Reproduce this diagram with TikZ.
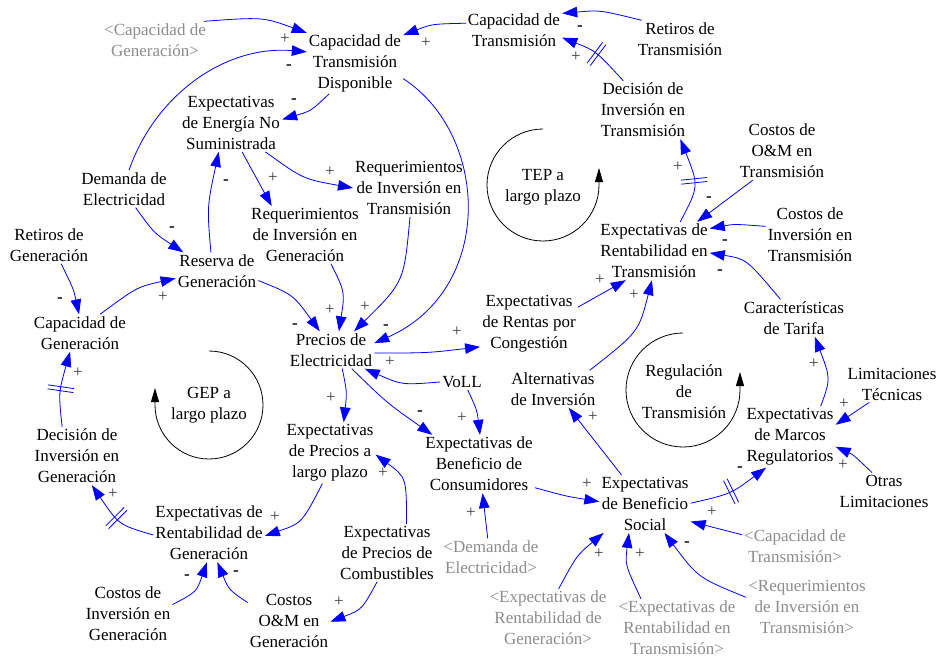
\documentclass[tikz,border=0pt]{standalone}
\usepackage{fontspec}
\setmainfont{Liberation Serif}
\usetikzlibrary{arrows.meta,decorations.markings}
\definecolor{linkblue}{RGB}{0,0,255}
\definecolor{ghost}{RGB}{140,140,140}
\definecolor{polgray}{RGB}{60,60,60}
\begin{document}
\begin{tikzpicture}[x=1pt,y=-1pt,
  var/.style={align=center,font=\fontsize{17}{21}\selectfont,inner sep=2pt},
  ghostvar/.style={var,text=ghost},
  pol/.style={font=\fontsize{17}{21}\selectfont,text=polgray,inner sep=0pt},
  neg/.style={font=\fontsize{17}{21}\selectfont\bfseries,text=black,inner sep=0pt},
  link/.style={draw=linkblue,line width=0.8pt,-{Triangle[length=15pt,width=10.5pt]}},
  loopline/.style={draw=black,line width=0.8pt,-{Triangle[length=14pt,width=8pt]}},
  delaymark/.style={postaction={decorate},decoration={markings,mark=at position 0.5 with {\draw[linkblue,line width=0.8pt,-] (-2pt,-13pt) -- (-2pt,13pt) (2pt,-13pt) -- (2pt,13pt);}}}
]
\useasboundingbox (0,0) rectangle (937,657);

% variables
\node[ghostvar] (cg) at (155,40) {<Capacidad de\\Generación>};
\node[var] (ctd) at (355,63) {Capacidad de\\Transmisión\\Disponible};
\node[var] (ct) at (514,30) {Capacidad de\\Transmisión};
\node[var] (rt) at (680,39) {Retiros de\\Transmisión};
\node[var] (dit) at (643,110) {Decisión de\\Inversión en\\Transmisión};
\node[var] (eens) at (231,123) {Expectativas\\de Energía No\\Suministrada};
\node[var] (dem) at (124,189) {Demanda de\\Electricidad};
\node[var] (rit) at (409,188) {Requerimientos\\de Inversión en\\Transmisión};
\node[var] (rig) at (305,235) {Requerimientos\\de Inversión en\\Generación};
\node[var] (rg) at (49,245) {Retiros de\\Generación};
\node[var] (res) at (217,271) {Reserva de\\Generación};
\node[var] (cgen) at (80,333) {Capacidad de\\Generación};
\node[var] (pe) at (331,350) {Precios de\\Electricidad};
\node[var] (ert) at (654,251) {Expectativas de\\Rentabilidad en\\Transmisión};
\node[var] (cot) at (782,151) {Costos de\\O\&M en\\Transmisión};
\node[var] (cit) at (810,235) {Costos de\\Inversión en\\Transmisión};
\node[var] (erc) at (529,324) {Expectativas\\de Rentas por\\Congestión};
\node[var] (ctar) at (794,318) {Características\\de Tarifa};
\node[var] (alt) at (553,389) {Alternativas\\de Inversión};
\node[var] (voll) at (462,382) {VoLL};
\node[var] (lt) at (892,384) {Limitaciones\\Técnicas};
\node[var] (emr) at (790,437) {Expectativas\\de Marcos\\Regulatorios};
\node[var] (ol) at (884,491) {Otras\\Limitaciones};
\node[var] (ebc) at (479,464) {Expectativas de\\Beneficio de\\Consumidores};
\node[var] (ebs) at (645,504) {Expectativas\\de Beneficio\\Social};
\node[var] (eplp) at (330,453) {Expectativas\\de Precios a\\largo plazo};
\node[var] (dig) at (77,456) {Decisión de\\Inversión en\\Generación};
\node[var] (erg) at (209,533) {Expectativas de\\Rentabilidad de\\Generación};
\node[var] (epc) at (387,553) {Expectativas\\de Precios de\\Combustibles};
\node[var] (cig) at (128,614) {Costos de\\Inversión en\\Generación};
\node[var] (cog) at (289,621) {Costos\\O\&M en\\Generación};
\node[ghostvar] (gdem) at (491,557) {<Demanda de\\Electricidad>};
\node[ghostvar] (gerg) at (548,618) {<Expectativas de\\Rentabilidad de\\Generación>};
\node[ghostvar] (gert) at (677,628) {<Expectativas de\\Rentabilidad en\\Transmisión>};
\node[ghostvar] (gct) at (795,546) {<Capacidad de\\Transmisión>};
\node[ghostvar] (grit) at (807,607) {<Requerimientos\\de Inversión en\\Transmisión>};

% loop labels and loop symbols
\node[var] (gep) at (209,405) {GEP a\\largo plazo};
\node[var] (tep) at (543,187) {TEP a\\largo plazo};
\node[var] (reg) at (684,392) {Regulación\\de\\Transmisión};
\begin{scope}[shift={(209,405)},y=1pt]
  \draw[loopline] (90:54) arc[start angle=90,end angle=-180,radius=54] -- ++(0,17);
\end{scope}
\begin{scope}[shift={(543,185)},y=1pt]
  \draw[loopline] (90:56) arc[start angle=90,end angle=360,radius=56] -- ++(0,17);
\end{scope}
\begin{scope}[shift={(683,390)},y=1pt]
  \draw[loopline] (90:57) arc[start angle=90,end angle=360,radius=57] -- ++(0,18);
\end{scope}

% links
\draw[link] (cg.21) .. controls (263,17) .. (ctd.148);
\draw[link] (dem.75) .. controls (155,95) and (225,45) .. (ctd.167);
\draw[link] (ctd.230) .. controls (311,111) .. (eens.4);
\draw[link] (ctd.342) .. controls (490,135) and (495,290) .. (pe.9);
\draw[link] (eens.291) -- (rig.139);
\draw[link] (eens.320) .. controls (303,179) .. (rit.180);
\draw[link] (res.108) .. controls (207,207) .. (eens.247);
\draw[link] (dem.302) .. controls (154,233) .. (res.151);
\draw[link] (rg.303) .. controls (73.5,289) .. (cgen.93);
\draw[link] (cgen.43) .. controls (137,287) .. (res.190);
\draw[link] (res.347) .. controls (293,294.5) .. (pe.121);
\draw[link] (rig.312) .. controls (345,292) .. (pe.67);
\draw[link] (rit.272) .. controls (404,282) .. (pe.39);
\draw[link] (pe.356) .. controls (428,353) .. (erc.205);
\draw[link] (voll.180) .. controls (402,385) .. (pe.331);
\draw[link] (pe.301) .. controls (347,392) .. (eplp.66);
\draw[link] (pe.318) .. controls (387,403) .. (ebc.148);
\draw[link] (voll.306) .. controls (477,410) .. (ebc.88);
\draw[link] (eplp.256) .. controls (302,523) .. (erg.357);
\draw[link] (epc.56) .. controls (406.5,477.5) .. (eplp.358);
\draw[link] (epc.251) .. controls (362,609.5) .. (cog.359);
\draw[link] (cig.12) .. controls (196.5,592) .. (erg.266);
\draw[link] (cog.156) .. controls (229,590) .. (erg.286);
\draw[link,delaymark] (erg.182) .. controls (119,525) .. (dig.297);
\draw[link,delaymark] (dig.117) .. controls (58.5,392.7) .. (cgen.242);
\draw[link] (ct.172) .. controls (432,24) .. (ctd.30);
\draw[link] (rt.154) .. controls (600,10) .. (ct.19);
\draw[link,delaymark] (dit.124) .. controls (596,51) .. (ct.351);
\draw[link,delaymark] (ert.48) .. controls (699,186) .. (dit.322);
\draw[link] (cot.225) -- (ert.34);
\draw[link] (cit.169) .. controls (734.5,224) .. (ert.22);
\draw[link] (ctar.126) .. controls (746.5,259) .. (ert.358);
\draw[link] (erc.19) -- (ert.226);
\draw[link] (alt.27) .. controls (638.7,331.8) .. (ert.266);
\draw[link] (ebs.129) -- (alt.310);
\draw[link] (ebc.337) .. controls (566.3,496.3) .. (ebs.177);
\draw[link] (gdem.100) -- (ebc.277);
\draw[link,delaymark] (ebs.1) .. controls (730.7,494) .. (emr.232);
\draw[link] (gct.168) -- (ebs.339);
\draw[link] (grit.171) .. controls (698,577.7) .. (ebs.304);
\draw[link] (gert.141) .. controls (625,564.5) .. (ebs.241);
\draw[link] (gerg.70) .. controls (577,555) .. (ebs.215);
\draw[link] (emr.45) .. controls (830.7,378.7) .. (ctar.318);
\draw[link] (lt.219) -- (emr.15);
\draw[link] (ol.123) .. controls (853,454.5) .. (emr.348);

% polarities
\node[pol] (p1) at (285,39) {+};
\node[neg] (p2) at (289,67) {-};
\node[neg] (p3) at (294,101) {-};
\node[neg] (p4) at (386,327) {-};
\node[pol] (p5) at (273,178) {+};
\node[pol] (p6) at (330,172) {+};
\node[neg] (p7) at (226,182) {-};
\node[neg] (p8) at (172,229) {-};
\node[neg] (p9) at (60,300) {-};
\node[pol] (p10) at (163,297) {+};
\node[neg] (p11) at (295,326) {-};
\node[pol] (p12) at (330,310) {+};
\node[pol] (p13) at (365,307) {+};
\node[pol] (p14) at (457,332) {+};
\node[pol] (p15) at (390,362) {+};
\node[pol] (p16) at (331,398) {+};
\node[neg] (p17) at (420,413) {-};
\node[pol] (p18) at (462,418) {+};
\node[pol] (p19) at (275,517) {+};
\node[pol] (p20) at (383,473) {+};
\node[pol] (p21) at (339,602) {+};
\node[neg] (p22) at (187,577) {-};
\node[neg] (p23) at (236,573) {-};
\node[pol] (p24) at (113,494) {+};
\node[pol] (p25) at (78,373) {+};
\node[pol] (p26) at (426,43) {+};
\node[neg] (p27) at (580,28) {-};
\node[pol] (p28) at (576,57) {+};
\node[pol] (p29) at (678,167) {+};
\node[neg] (p30) at (709,199) {-};
\node[neg] (p31) at (725,242) {-};
\node[neg] (p32) at (720,272) {-};
\node[pol] (p33) at (600,280) {+};
\node[pol] (p34) at (634,295) {+};
\node[pol] (p35) at (593,417) {+};
\node[pol] (p36) at (587,484) {+};
\node[pol] (p37) at (471,513) {+};
\node[neg] (p38) at (740,469) {-};
\node[pol] (p39) at (712,512) {+};
\node[neg] (p40) at (687,544) {-};
\node[pol] (p41) at (640,554) {+};
\node[pol] (p42) at (599,554) {+};
\node[pol] (p43) at (814,364) {+};
\node[pol] (p44) at (844,404) {+};
\node[pol] (p45) at (843,465) {+};
\end{tikzpicture}
\end{document}
